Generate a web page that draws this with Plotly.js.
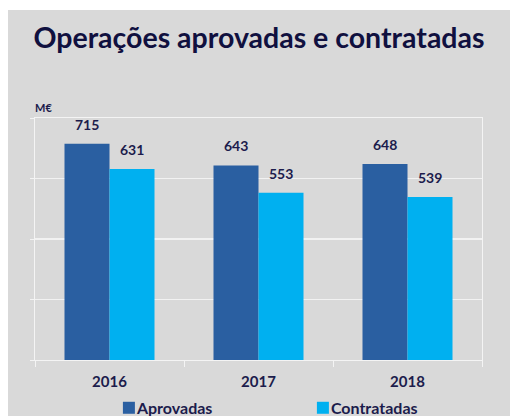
<!DOCTYPE html>
<html>
<head>
<meta charset="utf-8">
<script src="https://cdn.plot.ly/plotly-3.0.1.min.js"></script>
<style>
html,body{margin:0;padding:0;background:#ffffff;}
#wrap{position:absolute;left:8px;top:10px;width:502px;height:406px;background:#d9d9d9;}
#chart{width:502px;height:406px;}
</style>
</head>
<body>
<div id="wrap"><div id="chart"></div></div>
<script>
var categories = ['2016', '2017', '2018'];
var aprovadas = [715, 643, 648];
var contratadas = [631, 553, 539];
var seriesNames = ['Aprovadas', 'Contratadas'];
var unitLabel = 'M€';
var titleText = 'Operações aprovadas e contratadas';

var textColor = '#1c1c4c';
var fontFam = 'Lato, "Open Sans", sans-serif';

var traces = [
  {type: 'bar', name: seriesNames[0], x: categories, y: aprovadas,
   marker: {color: '#2a5fa1'}, hoverinfo: 'none'},
  {type: 'bar', name: seriesNames[1], x: categories, y: contratadas,
   marker: {color: '#00b0f0'}, hoverinfo: 'none'}
];

var annotations = [];
var barPx = 45;
categories.forEach(function(c, i){
  annotations.push({x: i, y: aprovadas[i], xref: 'x', yref: 'y', text: '<b>' + aprovadas[i] + '</b>',
    showarrow: false, yanchor: 'bottom', xshift: -barPx/2, yshift: 9,
    font: {family: fontFam, size: 14, color: textColor}});
  annotations.push({x: i, y: contratadas[i], xref: 'x', yref: 'y', text: '<b>' + contratadas[i] + '</b>',
    showarrow: false, yanchor: 'bottom', xshift: barPx/2, yshift: 9,
    font: {family: fontFam, size: 14, color: textColor}});
});
annotations.push({x: 0, y: 1, xref: 'paper', yref: 'paper', text: '<b>' + unitLabel + '</b>',
  showarrow: false, xanchor: 'left', yanchor: 'bottom', xshift: -2, yshift: 2,
  font: {family: fontFam, size: 11, color: textColor}});

var layout = {
  width: 502, height: 406,
  paper_bgcolor: '#d9d9d9', plot_bgcolor: '#d9d9d9',
  margin: {l: 27, r: 28, t: 108, b: 56},
  title: {text: '<b>' + titleText + '</b>', x: 0.5, xanchor: 'center', y: 0.93, yanchor: 'middle',
    font: {family: fontFam, size: 28.5, color: '#10103f'}},
  barmode: 'group', bargap: 0.396, bargroupgap: 0,
  showlegend: true,
  legend: {orientation: 'h', xref: 'container', yref: 'container', x: 0.201, xanchor: 'left', y: 0.02, yanchor: 'middle',
    font: {family: fontFam, size: 16, color: textColor}, entrywidth: 149, itemwidth: 30,
    bgcolor: 'rgba(0,0,0,0)'},
  xaxis: {type: 'category', range: [-0.5, 2.5], showline: true, linecolor: '#f4f4f4', linewidth: 1, mirror: true,
    ticks: 'outside', tickson: 'boundaries', ticklen: 6, tickcolor: '#f4f4f4', ticklabelstandoff: 8,
    showgrid: false, tickfont: {family: fontFam, size: 15, color: textColor}, fixedrange: true},
  yaxis: {range: [0, 800], dtick: 200, showticklabels: false, showline: true, linecolor: '#f4f4f4',
    mirror: true, linewidth: 1, ticks: 'outside', ticklen: 4, tickcolor: '#f4f4f4',
    showgrid: true, gridcolor: '#f2f2f2', gridwidth: 1.5, zeroline: false, fixedrange: true},
  annotations: annotations
};

Plotly.newPlot('chart', traces, layout, {displayModeBar: false, staticPlot: true}).then(function(){
  var ticks = document.querySelectorAll('.xtick text');
  ticks.forEach(function(t){ t.style.fontWeight = 'bold'; });
  var leg = document.querySelectorAll('.legendtext');
  leg.forEach(function(t){
    t.style.fontWeight = 'bold';
    var x0 = parseFloat(t.getAttribute('x')) || 40;
    t.setAttribute('x', x0 - 12);
  });
});
</script>
</body>
</html>
